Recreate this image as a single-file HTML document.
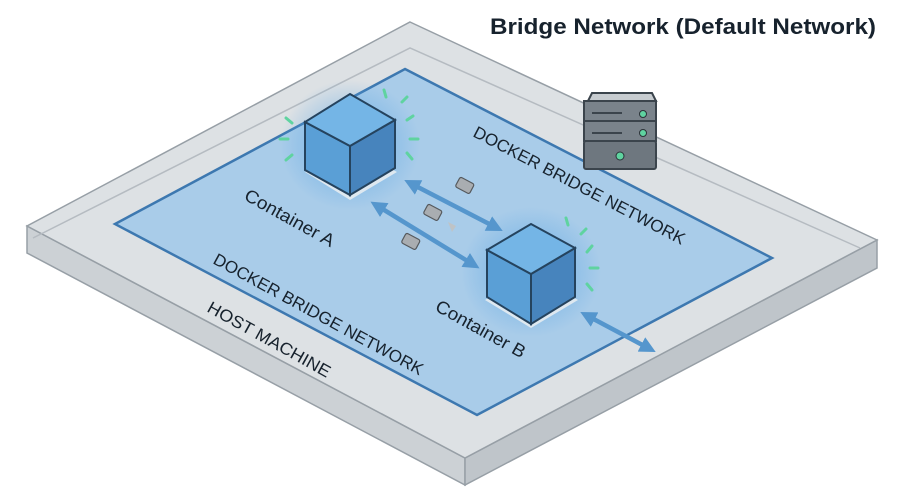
<!DOCTYPE html>
<html><head><meta charset="utf-8"><style>
html,body{margin:0;padding:0;background:#fff;}
svg{display:block;}
text{font-family:"Liberation Sans",sans-serif;fill:#17222d;}
</style></head><body>
<svg width="903" height="492" viewBox="0 0 903 492" xmlns="http://www.w3.org/2000/svg">
<defs>
<radialGradient id="glow" cx="50%" cy="50%" r="50%">
<stop offset="0" stop-color="#5aa6e6" stop-opacity="0.8"/>
<stop offset="1" stop-color="#5aa6e6" stop-opacity="0"/>
</radialGradient>
<marker id="ah" viewBox="0 0 10 10" refX="6" refY="5" markerWidth="3.6" markerHeight="3.6" orient="auto-start-reverse">
<path d="M0,0 L10,5 L0,10 z" fill="#5596cd"/></marker>
</defs>
<polygon points="27,226 465,458 465,485 27,253" fill="#ccd1d5" stroke="#979fa6" stroke-width="1.5"/>
<polygon points="465,458 877,240 877,268 465,485" fill="#bfc5ca" stroke="#979fa6" stroke-width="1.5"/>
<polygon points="410,22 877,240 465,458 27,226" fill="#dde1e4" stroke="#979fa6" stroke-width="1.5"/>
<polyline points="33,238 410,48 860,248" fill="none" stroke="#b5bbc1" stroke-width="1.5"/>
<polygon points="405,69 772,258 477,415 115,224" fill="#a9cce9" stroke="#3d78b0" stroke-width="2.5"/>
<ellipse cx="350" cy="145" rx="70" ry="65" fill="url(#glow)"/>
<ellipse cx="531" cy="272" rx="70" ry="65" fill="url(#glow)"/>
<polygon points="305,172 350,200 397,172 350,146" fill="#e6ecf1" opacity="0.9"/>
<polygon points="305,122 350,146 350,195 305,170" fill="#5a9fd6" stroke="#25435e" stroke-width="2"/>
<polygon points="350,146 395,120 395,168 350,195" fill="#4784bd" stroke="#25435e" stroke-width="2"/>
<polygon points="350,94 395,120 350,146 305,122" fill="#74b5e6" stroke="#25435e" stroke-width="2"/>
<polygon points="485,300 531,328 578,300 531,274" fill="#e6ecf1" opacity="0.9"/>
<polygon points="487,250 531,274 531,324 487,297" fill="#5a9fd6" stroke="#25435e" stroke-width="2"/>
<polygon points="531,274 575,248 575,297 531,324" fill="#4784bd" stroke="#25435e" stroke-width="2"/>
<polygon points="531,224 575,248 531,274 487,250" fill="#74b5e6" stroke="#25435e" stroke-width="2"/>
<g stroke="#5fd3a0" stroke-width="3" stroke-linecap="round">
<line x1="286" y1="118" x2="292" y2="123"/><line x1="280" y1="139" x2="288" y2="139"/><line x1="286" y1="160" x2="292" y2="155"/>
<line x1="384" y1="90" x2="386" y2="97"/><line x1="402" y1="102" x2="407" y2="97"/><line x1="407" y1="120" x2="413" y2="116"/><line x1="410" y1="139" x2="418" y2="139"/><line x1="407" y1="153" x2="412" y2="159"/>
<line x1="566" y1="218" x2="568" y2="225"/><line x1="581" y1="234" x2="586" y2="229"/><line x1="587" y1="252" x2="592" y2="246"/><line x1="590" y1="268" x2="598" y2="268"/><line x1="587" y1="284" x2="592" y2="290"/>
</g>
<g stroke="#5596cd" stroke-width="4.5" fill="none">
<line x1="410" y1="183" x2="497" y2="228" marker-start="url(#ah)" marker-end="url(#ah)"/>
<line x1="376" y1="205" x2="474" y2="265" marker-start="url(#ah)" marker-end="url(#ah)"/>
<line x1="586" y1="315" x2="650" y2="349" marker-start="url(#ah)" marker-end="url(#ah)"/>
</g>
<g fill="#a9adb1" stroke="#55595d" stroke-width="1.2">
<rect x="457" y="180" width="16" height="11" rx="2" transform="rotate(28 465 185)"/>
<rect x="425" y="207" width="16" height="11" rx="2" transform="rotate(28 433 212)"/>
<rect x="403" y="236" width="16" height="11" rx="2" transform="rotate(28 411 241)"/>
</g>
<path d="M448,222 l8,4 l-4,6 z" fill="#bfc3c6"/>
<g stroke="#3b444c" stroke-width="2">
<polygon points="588,101 592,93 652,93 656,101" fill="#c7ccd0"/>
<rect x="584" y="101" width="72" height="20" fill="#7a838b"/>
<rect x="584" y="121" width="72" height="20" fill="#7a838b"/>
<rect x="584" y="141" width="72" height="28" rx="2" fill="#6e777f"/>
</g>
<g stroke="#3b444c" stroke-width="2"><line x1="592" y1="113" x2="622" y2="113"/><line x1="592" y1="133" x2="622" y2="133"/></g>
<circle cx="643" cy="114" r="3.5" fill="#5fd3a0" stroke="#2b3338"/>
<circle cx="643" cy="133" r="3.5" fill="#5fd3a0" stroke="#2b3338"/>
<circle cx="620" cy="156" r="4" fill="#5fd3a0" stroke="#2b3338"/>
<text x="490" y="34" font-size="22" font-weight="bold" fill="#2e353b" textLength="386" lengthAdjust="spacingAndGlyphs">Bridge Network (Default Network)</text>
<text transform="translate(243,199) rotate(29)" font-size="18" textLength="100" lengthAdjust="spacingAndGlyphs">Container A</text>
<text transform="translate(434,310) rotate(29)" font-size="18" textLength="100" lengthAdjust="spacingAndGlyphs">Container B</text>
<text transform="translate(472,136) rotate(27.5)" font-size="17" textLength="236" lengthAdjust="spacingAndGlyphs">DOCKER BRIDGE NETWORK</text>
<text transform="translate(212,263) rotate(28.5)" font-size="17" textLength="236" lengthAdjust="spacingAndGlyphs">DOCKER BRIDGE NETWORK</text>
<text transform="translate(206,311) rotate(29)" font-size="17" textLength="138" lengthAdjust="spacingAndGlyphs">HOST MACHINE</text>
</svg>
</body></html>
